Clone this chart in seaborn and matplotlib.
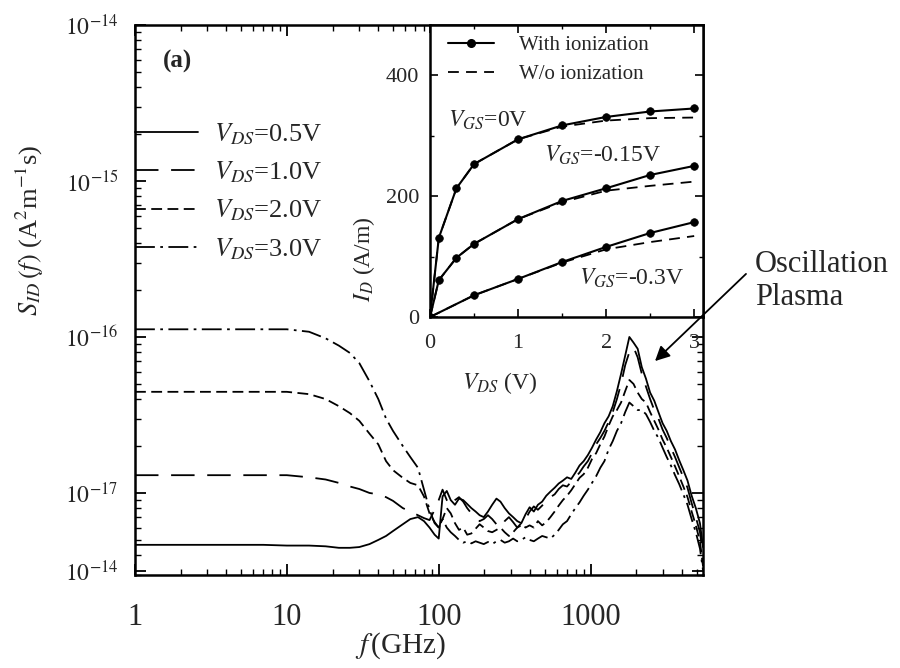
import numpy as np
import pandas as pd
import seaborn as sns
import matplotlib.pyplot as plt
from matplotlib.lines import Line2D
from matplotlib.ticker import AutoMinorLocator, LogLocator, NullFormatter

sns.set_theme(style="ticks")
plt.rcParams["font.family"] = ["Liberation Serif", "DejaVu Serif"]
plt.rcParams["mathtext.fontset"] = "stix"
plt.rcParams["axes.linewidth"] = 1.8
plt.rcParams["axes.edgecolor"] = "black"

# ---- main panel: S_ID(f) (units of 1e-18 A^2 m^-1 s)
freq_ghz = [1, 2, 4, 7, 10, 14, 18, 22, 26, 30, 35, 40, 45, 50, 58, 65, 73, 80, 87, 94,
            100, 106, 113, 120, 128, 136, 145, 154, 164, 175,
            186, 198, 211, 225, 240, 255, 272, 290, 309, 329,
            350, 373, 397, 423, 450, 480, 511, 544, 580, 617,
            657, 700, 746, 794, 846, 901, 960, 1022, 1088, 1159,
            1234, 1315, 1400, 1491, 1588, 1691, 1801, 1918, 2043, 2175,
            2317, 2467, 2628, 2798, 2980, 3174, 3380, 3600, 3834, 4083,
            4349, 4631, 4932, 5253, 5500]

s_05 = [4.65, 4.65, 4.65, 4.65, 4.6, 4.6, 4.55, 4.45, 4.45, 4.5, 4.7, 5.0, 5.3, 5.7, 6.3, 6.8, 7.0, 6.6, 6.0, 5.4,
        5.1, 9.5, 10.3, 9.0, 8.4, 9.2, 9.0, 8.5, 8.0, 7.6,
        7.2, 7.0, 7.6, 8.4, 9.2, 8.8, 8.0, 7.4, 7.0, 6.6,
        6.4, 7.3, 8.1, 7.6, 8.4, 8.8, 9.6, 10.2, 10.8, 11.5,
        12.0, 12.6, 12.3, 13.5, 15.0, 16.0, 17.5, 19.5, 22.0, 24.5,
        28.0, 31.0, 36.0, 45.0, 58.0, 76.0, 100.0, 92.0, 84.0, 64.0,
        54.0, 44.0, 39.0, 33.0, 28.0, 25.0, 21.5, 19.0, 16.2, 14.0,
        12.0, 9.6, 8.0, 6.4, 4.5]

s_10 = [13.0, 13.0, 13.0, 13.0, 13.0, 12.6, 12.2, 11.6, 11.0, 10.6, 10.0, 9.8, 9.4, 8.9, 8.0, 7.6, 7.2, 6.9, 6.7, 7.8,
        9.0, 10.5, 9.0, 8.3, 9.0, 9.4, 8.8, 8.0, 7.4, 7.0,
        6.6, 6.8, 7.2, 6.8, 6.3, 6.0, 6.6, 7.0, 6.5, 6.0,
        6.2, 6.8, 7.6, 8.2, 7.8, 8.3, 9.0, 9.4, 9.8, 10.6,
        11.2, 11.0, 11.8, 12.6, 13.5, 14.8, 16.0, 18.0, 20.5, 22.5,
        25.0, 28.5, 33.0, 40.0, 50.0, 66.0, 80.0, 86.0, 74.0, 58.0,
        48.0, 40.0, 34.0, 30.0, 25.5, 22.5, 19.5, 17.0, 14.6, 12.6,
        10.8, 8.6, 7.0, 5.6, 4.0]

s_20 = [44.5, 44.5, 44.5, 44.5, 44.5, 43.0, 40.0, 36.0, 32.5, 29.0, 24.0, 20.5, 16.0, 14.0, 12.5, 11.6, 11.2, 9.5, 7.4, 6.5,
        6.0, 6.8, 8.0, 7.4, 6.4, 5.8, 6.0, 5.4, 5.5, 5.9,
        6.3, 6.0, 5.7, 5.6, 5.8, 6.0, 5.6, 5.3, 5.6, 6.0,
        6.4, 6.0, 6.2, 6.0, 6.6, 6.2, 6.5, 7.0, 7.6, 8.3,
        9.0, 9.6, 10.4, 11.4, 12.5, 13.2, 14.5, 16.5, 18.0, 20.5,
        23.0, 27.0, 31.0, 34.0, 38.0, 45.0, 53.0, 50.0, 44.0, 40.0,
        38.0, 33.0, 29.0, 25.5, 22.0, 19.5, 17.0, 14.8, 12.8, 11.0,
        9.4, 7.6, 6.2, 4.9, 3.4]

s_30 = [112, 112, 112, 112, 112, 108, 98, 88, 79, 68, 52, 40, 30, 25, 20, 17, 14.5, 10.5, 7.8, 6.4,
        6.0, 6.8, 6.0, 5.6, 5.3, 5.0, 4.8, 4.9, 4.75, 4.9,
        4.8, 4.7, 4.85, 4.7, 4.9, 5.0, 4.8, 4.9, 5.1, 4.9,
        5.0, 5.2, 5.0, 4.9, 5.1, 5.3, 5.2, 5.1, 5.4, 5.8,
        6.3, 6.6, 7.3, 8.0, 8.7, 9.6, 10.5, 11.6, 12.8, 14.5,
        16.0, 19.0, 21.5, 25.0, 28.0, 33.0, 38.0, 36.0, 34.0, 34.0,
        32.0, 28.5, 25.0, 22.5, 19.5, 17.0, 15.0, 13.0, 11.4, 9.8,
        8.4, 6.8, 5.6, 4.4, 3.2]

vds_labels = [r"$V_{DS}$=0.5V", r"$V_{DS}$=1.0V", r"$V_{DS}$=2.0V", r"$V_{DS}$=3.0V"]

# ---- inset: I_D vs V_DS
vds_a = [0, 0.1, 0.3, 0.5, 1.0, 1.5, 2.0, 2.5, 3.0]
vds_b = [0, 0.5, 1.0, 1.5, 2.0, 2.5, 3.0]
id_with_0 = [0, 131, 213, 253, 294, 317, 331, 340, 345]
id_wo_0 = [0, 131, 213, 253, 294, 315, 325, 329, 330]
id_with_015 = [0, 61, 98, 121, 162, 192, 213, 235, 250]
id_wo_015 = [0, 61, 98, 121, 162, 190, 209, 217, 224]
id_with_03 = [0, 36, 63, 91, 116, 139, 157]
id_wo_03 = [0, 36, 63, 90, 112, 124, 134]

# long-form tables
spec = pd.DataFrame({
    "f": freq_ghz * 4,
    "S": np.concatenate([s_05, s_10, s_20, s_30]) * 1e-18,
    "vds": np.repeat(vds_labels, len(freq_ghz)),
})

rows = []
for vgs, v, i_with, i_wo in [("0", vds_a, id_with_0, id_wo_0),
                             ("-0.15", vds_a, id_with_015, id_wo_015),
                             ("-0.3", vds_b, id_with_03, id_wo_03)]:
    for x, y1, y2 in zip(v, i_with, i_wo):
        rows.append({"vgs": vgs, "vds": x, "id": y1, "kind": "with"})
        rows.append({"vgs": vgs, "vds": x, "id": y2, "kind": "wo"})
iv = pd.DataFrame(rows)

fig = plt.figure(figsize=(9, 6.68), dpi=100)
ax = fig.add_axes([0.15, 0.1392, 0.6311, 0.8234])
ax.set_xscale("log")
ax.set_yscale("log")

dash_map = dict(zip(vds_labels, ["", (13, 7), (6, 3), (11, 3, 1.5, 3)]))
sns.lineplot(data=spec, x="f", y="S", style="vds", style_order=vds_labels,
             dashes=dash_map, color="black", lw=1.3, estimator=None, sort=False, ax=ax)

ax.set_xlim(1, 5500)
ax.set_ylim(10 ** -17.526, 1e-14)
ax.set_xticks([1, 10, 100, 1000], labels=["1", "10", "100", "1000"])
ax.xaxis.set_minor_locator(LogLocator(base=10, subs=(2, 3, 4, 5, 6, 7, 8, 9), numticks=20))
ax.xaxis.set_minor_formatter(NullFormatter())
ax.set_yticks([1e-14, 1e-15, 1e-16, 1e-17, 10 ** -17.5],
              labels=[r"$10^{-14}$", r"$10^{-15}$", r"$10^{-16}$", r"$10^{-17}$", r"$10^{-14}$"])
ax.yaxis.set_minor_locator(LogLocator(base=10, subs=(2, 3, 4, 5, 6, 7, 8, 9), numticks=20))
ax.yaxis.set_minor_formatter(NullFormatter())
ax.tick_params(which="both", direction="in", top=True, right=True, color="black")
ax.tick_params(which="major", length=8, width=1.3)
ax.tick_params(which="minor", length=4, width=1.0)
ax.tick_params(axis="x", labelsize=22, pad=20)
ax.tick_params(axis="y", labelsize=17, pad=12)

ax.set_xlabel(r"$f\,$(GHz)", fontsize=21)
ax.xaxis.set_label_coords(0.467, -0.1)
ax.set_ylabel(r"$S_{ID}\,(f)$ (A$^2$m$^{-1}$s)", fontsize=19)
ax.yaxis.set_label_coords(-0.157, 0.627)
ax.text(0.049, 0.933, "(a)", transform=ax.transAxes, fontsize=18, fontweight="bold",
        ha="left", va="center")

handles, labels = ax.get_legend_handles_labels()
ax.legend(handles, labels, loc="upper left", bbox_to_anchor=(0.0, 0.825), frameon=False,
          fontsize=19, handlelength=2.4, handletextpad=0.6, labelspacing=0.48,
          borderpad=0, borderaxespad=0)

# ---- inset
ax_in = fig.add_axes([0.4778, 0.5254, 0.3033, 0.4371])
ax_in.set_zorder(3)
ax_in.set_facecolor("white")
sns.lineplot(data=iv[iv["kind"] == "wo"], x="vds", y="id", units="vgs", estimator=None,
             color="black", lw=1.3, linestyle=(0, (6, 4)), legend=False, ax=ax_in)
sns.lineplot(data=iv[iv["kind"] == "with"], x="vds", y="id", units="vgs", estimator=None,
             color="black", lw=1.5, marker="o", markersize=5.5, mec="black", mew=0.5,
             legend=False, ax=ax_in)
ax_in.set_xlim(0, 3.1)
ax_in.set_ylim(0, 483)
ax_in.set_xticks([0, 1, 2, 3])
ax_in.set_yticks([0, 200, 400])
ax_in.xaxis.set_minor_locator(AutoMinorLocator(2))
ax_in.yaxis.set_minor_locator(AutoMinorLocator(2))
ax_in.tick_params(which="both", direction="in", top=True, right=True, color="black")
ax_in.tick_params(which="major", length=6, width=1.2)
ax_in.tick_params(which="minor", length=3, width=1.0)
ax_in.tick_params(axis="x", labelsize=16, pad=12)
ax_in.tick_params(axis="y", labelsize=16, pad=8)
ax_in.set_xlabel(r"$V_{DS}$ (V)", fontsize=17)
ax_in.xaxis.set_label_coords(0.256, -0.18)
ax_in.set_ylabel(r"$I_D$ (A/m)", fontsize=17)
ax_in.yaxis.set_label_coords(-0.195, 0.2)

ax_in.text(0.2, 326, r"$V_{GS}$=0V", fontsize=17, ha="left", va="center")
ax_in.text(1.3, 268, r"$V_{GS}$=-0.15V", fontsize=17, ha="left", va="center")
ax_in.text(1.69, 64, r"$V_{GS}$=-0.3V", fontsize=17, ha="left", va="center")

leg_handles = [Line2D([], [], color="black", lw=1.5, marker="o", markersize=5.5),
               Line2D([], [], color="black", lw=1.3, linestyle=(0, (6, 4)))]
ax_in.legend(leg_handles, ["With ionization", "W/o ionization"], loc="upper left",
             bbox_to_anchor=(0.066, 0.965), frameon=False, fontsize=15,
             handlelength=2.2, handletextpad=1.2, labelspacing=0.45,
             borderpad=0, borderaxespad=0)

# ---- plasma oscillation callout
ax_in.annotate("", xy=(653 / 900, 1 - 363 / 668), xycoords="figure fraction",
               xytext=(748 / 900, 1 - 272 / 668), textcoords="figure fraction",
               arrowprops=dict(arrowstyle="-|>", mutation_scale=22, lw=1.3, color="black"),
               annotation_clip=False)
fig.text(755 / 900, 1 - 281 / 668, "Oscillation\nPlasma", fontsize=22,
         ha="left", va="center")

fig.savefig("out.png", dpi=100, facecolor="white")
